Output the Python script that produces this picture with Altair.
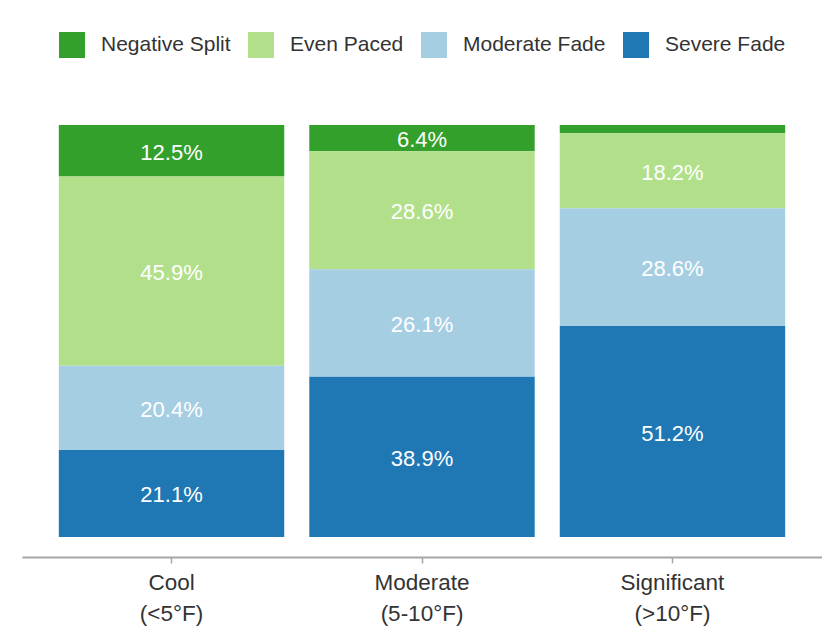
import altair as alt
import pandas as pd

categories = ["Cool (<5°F)", "Moderate (5-10°F)", "Significant (>10°F)"]
groups = ["Negative Split", "Even Paced", "Moderate Fade", "Severe Fade"]
colors = ["#33a02c", "#b2df8a", "#a6cee3", "#1f78b4"]
negative_split = [12.5, 6.4, 2.0]
even_paced = [45.9, 28.6, 18.2]
moderate_fade = [20.4, 26.1, 28.6]
severe_fade = [21.1, 38.9, 51.2]

series = [negative_split, even_paced, moderate_fade, severe_fade]
rows = []
for gi, (g, vals) in enumerate(zip(groups, series)):
    for c, v in zip(categories, vals):
        rows.append({"cat": c, "group": g, "value": v, "order": 3 - gi})
df = pd.DataFrame(rows)

FONT = "Liberation Sans"

base = alt.Chart(df).transform_stack(
    stack="value", groupby=["cat"], sort=[alt.SortField("order")],
    as_=["y0", "y1"], offset="normalize"
).transform_calculate(mid="(datum.y0 + datum.y1) / 2")

x = alt.X("cat:N", sort=categories, title=None,
          scale=alt.Scale(paddingInner=0.1, paddingOuter=0.147),
          axis=alt.Axis(labelAngle=0, offset=20, domainColor="#a6a6a6", domainWidth=2,
                        tickColor="#a6a6a6", tickWidth=1.5, tickSize=6, labelPadding=8,
                        labelFont=FONT, labelFontSize=22.5, labelColor="#333333",
                        labelLineHeight=31, labelBaseline="top",
                        labelExpr="[slice(datum.label, 0, indexof(datum.label, ' (')), slice(datum.label, indexof(datum.label, ' (') + 1)]"))

bars = base.mark_bar().encode(
    x=x,
    y=alt.Y("y0:Q", scale=alt.Scale(domain=[0, 1]), axis=None),
    y2="y1:Q",
    color=alt.Color("group:N", sort=groups,
                    scale=alt.Scale(domain=groups, range=colors),
                    legend=alt.Legend(title=None, orient="none", legendX=37, legendY=-93,
                                      direction="horizontal", symbolType="square",
                                      symbolSize=676, symbolStrokeWidth=0, symbolOpacity=1,
                                      labelFont=FONT, labelFontSize=21, labelColor="#333333",
                                      labelOffset=16, columnPadding=17)),
)

labels = base.transform_filter("datum.value >= 5").transform_calculate(
    txt="format(datum.value, '.1f') + '%'"
).mark_text(
    color="white", font=FONT, fontSize=22, baseline="middle", align="center", dy=2
).encode(
    x=alt.X("cat:N", sort=categories),
    y=alt.Y("mid:Q", scale=alt.Scale(domain=[0, 1])),
    text="txt:N",
)

chart = alt.layer(bars, labels).properties(
    width=800, height=412,
    background="white",
    autosize=alt.AutoSizeParams(type="none"),
    padding={"left": 14, "top": 117, "right": 0, "bottom": 95},
).configure_view(strokeWidth=0, stroke="transparent")

chart.save("out.html", embed_options={"renderer": "svg", "actions": False})
